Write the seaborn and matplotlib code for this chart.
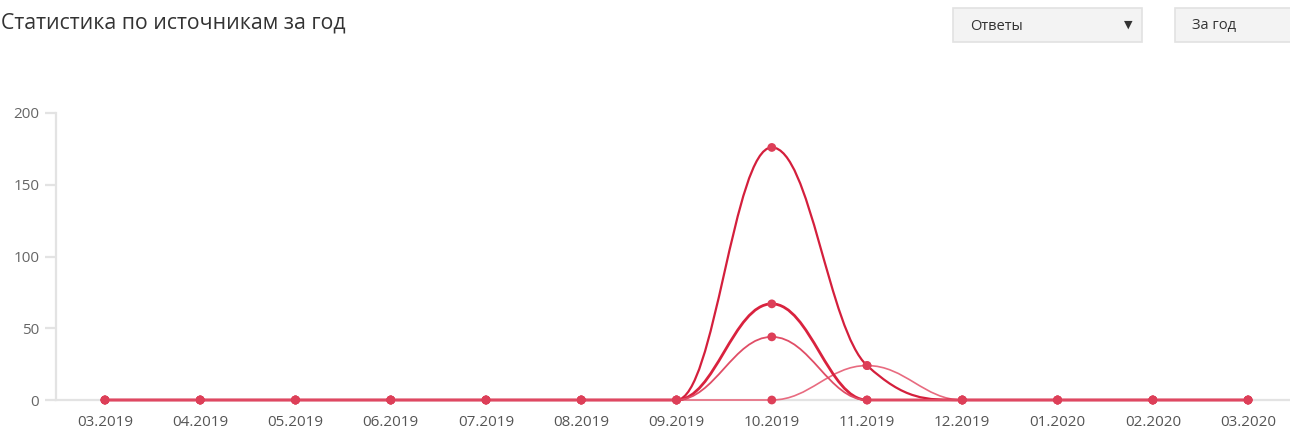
import numpy as np
import pandas as pd
import matplotlib
matplotlib.use("Agg")
import matplotlib.pyplot as plt
from matplotlib.path import Path
from matplotlib.patches import PathPatch, Rectangle
import seaborn as sns

# Monthly answers per source
months = ["03.2019", "04.2019", "05.2019", "06.2019", "07.2019", "08.2019",
          "09.2019", "10.2019", "11.2019", "12.2019", "01.2020", "02.2020", "03.2020"]
source_a = [0, 0, 0, 0, 0, 0, 0, 176, 24, 0, 0, 0, 0]
source_b = [0, 0, 0, 0, 0, 0, 0, 67, 0, 0, 0, 0, 0]
source_c = [0, 0, 0, 0, 0, 0, 0, 44, 0, 0, 0, 0, 0]
source_d = [0, 0, 0, 0, 0, 0, 0, 0, 24, 0, 0, 0, 0]
y_ticks = [0, 50, 100, 150, 200]

series_names = ["a", "b", "c", "d"]
series_vals = [source_a, source_b, source_c, source_d]
line_colors = {"a": "#d41f3c", "b": "#d9223e", "c": "#e04d66", "d": "#e86b80"}
line_widths = {"a": 1.6, "b": 2.0, "c": 1.3, "d": 1.2}
draw_order = ["d", "a", "b", "c"]
marker_color = "#dd3f58"

df = pd.DataFrame({
    "month_idx": np.tile(np.arange(len(months)), len(series_names)),
    "value": np.concatenate(series_vals),
    "series": np.repeat(series_names, len(months)),
})


def spline_path(xs, ys, smoothing=1.5):
    """Smooth cubic path through the points (spline with damped overshoot)."""
    denom = smoothing + 1
    n = len(xs)
    verts = [(xs[0], ys[0])]
    codes = [Path.MOVETO]
    right = [None] * n
    for i in range(1, n):
        px, py = xs[i], ys[i]
        lcx, lcy = px, py
        if i < n - 1:
            lx, ly = xs[i - 1], ys[i - 1]
            nx, ny = xs[i + 1], ys[i + 1]
            lcx = (smoothing * px + lx) / denom
            lcy = (smoothing * py + ly) / denom
            rcx = (smoothing * px + nx) / denom
            rcy = (smoothing * py + ny) / denom
            corr = ((rcy - lcy) * (rcx - px)) / (rcx - lcx) + py - rcy
            lcy += corr
            rcy += corr
            if lcy > ly and lcy > py:
                lcy = max(ly, py)
                rcy = 2 * py - lcy
            elif lcy < ly and lcy < py:
                lcy = min(ly, py)
                rcy = 2 * py - lcy
            if rcy > ny and rcy > py:
                rcy = max(ny, py)
                lcy = 2 * py - rcy
            elif rcy < ny and rcy < py:
                rcy = min(ny, py)
                lcy = 2 * py - rcy
            right[i] = (rcx, rcy)
        prev = right[i - 1] if right[i - 1] is not None else (xs[i - 1], ys[i - 1])
        verts += [prev, (lcx, lcy), (px, py)]
        codes += [Path.CURVE4, Path.CURVE4, Path.CURVE4]
    return Path(verts, codes)


sns.set_theme(style="white")
plt.rcParams["font.family"] = ["Open Sans", "DejaVu Sans"]

fig = plt.figure(figsize=(12.9, 4.33), dpi=100)
ax = fig.add_axes([56 / 1290, 1 - 400 / 433, 1 - 56 / 1290, (400 - 113) / 433])

x = np.arange(len(months))
vals_by_name = dict(zip(series_names, series_vals))
for k, name in enumerate(draw_order):
    vals = np.array(vals_by_name[name], dtype=float)
    patch = PathPatch(spline_path(x, vals), facecolor="none",
                      edgecolor=line_colors[name], lw=line_widths[name],
                      transform=ax.transData, clip_on=False,
                      capstyle="round", joinstyle="round", zorder=3 + k * 0.01)
    ax.add_patch(patch)

sns.scatterplot(data=df, x="month_idx", y="value", hue="series",
                palette=[marker_color] * len(series_names), legend=False,
                s=40, edgecolor="none", ax=ax, zorder=4, clip_on=False)

ax.set_xlim(-0.514, 12.44)
ax.set_ylim(0, 200)
ax.set_xticks(x)
ax.set_xticklabels(months)
ax.set_yticks(y_ticks)
ax.set_yticklabels([str(t) for t in y_ticks])
ax.set_xlabel("")
ax.set_ylabel("")

for side in ["top", "right"]:
    ax.spines[side].set_visible(False)
ax.spines["left"].set_color("#e3e3e3")
ax.spines["left"].set_linewidth(1.6)
ax.spines["bottom"].set_color("#e3e3e3")
ax.spines["bottom"].set_linewidth(1.6)
ax.spines["bottom"].set_zorder(1)

ax.tick_params(axis="y", length=8, width=1.6, color="#e3e3e3", pad=4,
               labelsize=11, labelcolor="#666666", left=True)
ax.tick_params(axis="x", length=0, pad=11, labelsize=11, labelcolor="#555555")
ax.grid(False)

# Header: title and the two selectors
fig.text(1 / 1290, 1 - 23 / 433, "Статистика по источникам за год", fontsize=15.3,
         color="#333333", va="center", ha="left")


def selector(x0, x1, label, arrow=True):
    fig.add_artist(Rectangle((x0 / 1290, 1 - 42 / 433), (x1 - x0) / 1290, 34 / 433,
                             transform=fig.transFigure, facecolor="#f3f3f3",
                             edgecolor="#e2e2e2", lw=1.2))
    fig.text((x0 + 17) / 1290, 1 - 26 / 433, label, fontsize=10.5, color="#333333",
             va="center", ha="left")
    if arrow:
        fig.text((x1 - 10) / 1290, 1 - 25 / 433, "▼", fontsize=8, color="#333333",
                 va="center", ha="right", family="DejaVu Sans")


selector(953, 1142, "Ответы")
selector(1175, 1300, "За год", arrow=False)

fig.savefig("out.png", dpi=100)
